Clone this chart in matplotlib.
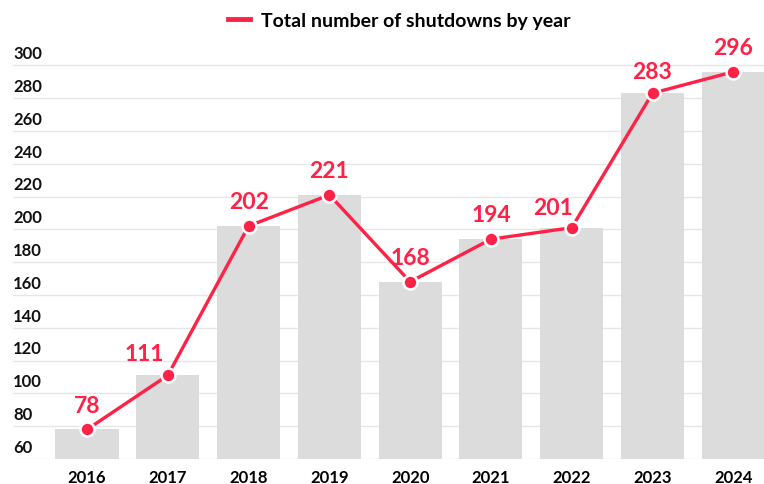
import matplotlib.pyplot as plt
from matplotlib.transforms import blended_transform_factory

years = ['2016', '2017', '2018', '2019', '2020', '2021', '2022', '2023', '2024']
shutdowns = [78, 111, 202, 221, 168, 194, 201, 283, 296]
y_ticks = [60, 80, 100, 120, 140, 160, 180, 200, 220, 240, 260, 280, 300]
# labels that would sit on the rising line are pushed to the left of the point
label_ha = ['center', 'right', 'center', 'center', 'center', 'center', 'right', 'center', 'center']
label_dx = [0, -3, 0, 0, 0, 0, 1, 0, 0]
label_dy = [10, 8, 10, 10, 10, 10, 7, 8, 10]

red = '#ff2146'
plt.rcParams['font.family'] = ['Lato', 'DejaVu Sans']

fig = plt.figure(figsize=(7.64, 4.85), dpi=100)
ax = fig.add_axes([13 / 764, 25 / 485, 751 / 764, 420 / 485])

x = list(range(len(years)))
ax.bar(x, shutdowns, width=0.78, color='#dcdcdc', zorder=1)
ax.plot(x, shutdowns, '-', color=red, lw=2.4, marker='o', ms=10,
        mfc=red, mec='white', mew=1.8, zorder=3,
        label='Total number of shutdowns by year')

for xi, v, ha, dx, dy in zip(x, shutdowns, label_ha, label_dx, label_dy):
    ax.annotate(str(v), (xi, v), xytext=(dx, dy), textcoords='offset points',
                ha=ha, va='bottom', color=red, fontsize=16.5,
                fontweight='bold', zorder=4)

ax.set_xlim(-0.916, 8.38)
ax.set_ylim(60, 316)
ax.set_yticks(y_ticks)
ax.yaxis.grid(True, color='#e6e6e6', lw=1, zorder=0)
ax.set_axisbelow(True)
ax.tick_params(axis='y', length=0, labelleft=False)
ax.tick_params(axis='x', length=0, pad=7)
ax.set_xticks(x)
ax.set_xticklabels(years, fontsize=12, fontweight='bold')
for s in ax.spines.values():
    s.set_visible(False)

# y labels sit just above their gridlines
trans = blended_transform_factory(ax.transAxes, ax.transData)
for t in y_ticks:
    ax.annotate(str(t), (0, t), xycoords=trans, xytext=(0, 3),
                textcoords='offset points', ha='left', va='bottom',
                fontsize=12, fontweight='bold', color='#111111')

fig.legend(loc='upper center', bbox_to_anchor=(0.523, 1.01), frameon=False,
           handlelength=1.1, handletextpad=0.6,
           prop={'size': 14, 'weight': 'bold'})
leg = fig.legends[0]
for h in leg.legend_handles:
    h.set_marker('')
    h.set_linewidth(3.5)

fig.savefig('out.png', dpi=100)
